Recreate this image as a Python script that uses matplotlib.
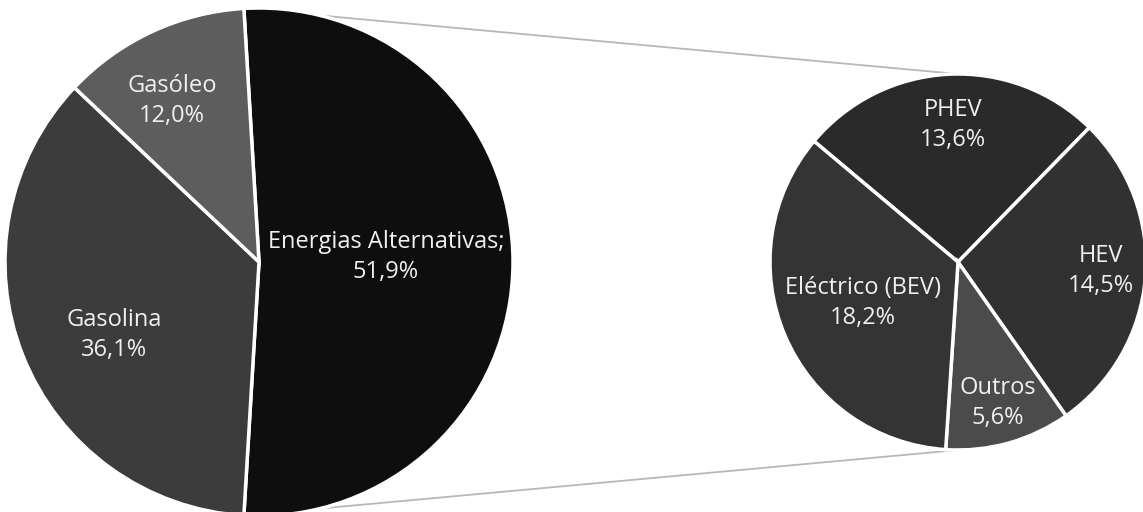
import numpy as np
import matplotlib
matplotlib.use("Agg")
import matplotlib.pyplot as plt

# ---- data ----
main_labels = ["Energias Alternativas;", "Gasolina", "Gasóleo"]
main_values = [51.9, 36.1, 12.0]
main_colors = ["#0e0e0e", "#3c3c3c", "#5d5d5d"]

sub_labels = ["PHEV", "HEV", "Outros", "Eléctrico (BEV)"]
sub_values = [13.6, 14.5, 5.6, 18.2]
sub_colors = ["#2a2a2a", "#313131", "#4b4b4b", "#343434"]

# label placement (angle in degrees, fraction of radius)
main_label_pos = [(2.3, 0.50), (206.7, 0.64), (118.4, 0.72)]
sub_label_pos = [(92.1, 0.73), (-3.6, 0.76), (-74.4, 0.78), (203.3, 0.55)]

W, H = 1143, 512
fig = plt.figure(figsize=(W / 100, H / 100), dpi=100)
ax = fig.add_axes([0, 0, 1, 1])

font = ["Open Sans", "DejaVu Sans"]
txt_color = "#f0f0f0"
fs = 17

c1, r1 = (259, 250), 254
c2, r2 = (958, 250), 188

alt_share = main_values[0] / sum(main_values) * 360
start1 = 90 + (alt_share - 180) / 2

w1, _ = ax.pie(main_values, colors=main_colors, startangle=start1, counterclock=False,
               center=c1, radius=r1,
               wedgeprops=dict(edgecolor="white", linewidth=2.5))

start2 = 140
w2, _ = ax.pie(sub_values, colors=sub_colors, startangle=start2, counterclock=False,
               center=c2, radius=r2,
               wedgeprops=dict(edgecolor="white", linewidth=2.5))

def fmt(v):
    return f"{v:.1f}".replace(".", ",") + "%"

for lab, v, (ang, fr) in zip(main_labels, main_values, main_label_pos):
    x = c1[0] + fr * r1 * np.cos(np.radians(ang))
    y = c1[1] + fr * r1 * np.sin(np.radians(ang))
    ax.text(x, y, f"{lab}\n{fmt(v)}", ha="center", va="center", color=txt_color,
            fontsize=fs, family=font, linespacing=1.35)

for lab, v, (ang, fr) in zip(sub_labels, sub_values, sub_label_pos):
    x = c2[0] + fr * r2 * np.cos(np.radians(ang))
    y = c2[1] + fr * r2 * np.sin(np.radians(ang))
    ax.text(x, y, f"{lab}\n{fmt(v)}", ha="center", va="center", color=txt_color,
            fontsize=fs, family=font, linespacing=1.35)

# connector lines between the split wedge and the secondary pie
alt = w1[0]
angs = [alt.theta1, alt.theta2]
pts = [(c1[0] + r1 * np.cos(np.radians(a)), c1[1] + r1 * np.sin(np.radians(a))) for a in angs]
top_pt = max(pts, key=lambda p: p[1])
bot_pt = min(pts, key=lambda p: p[1])
ax.plot([top_pt[0], c2[0]], [top_pt[1], c2[1] + r2], color="#b8b8b8", lw=1.3, zorder=0)
ax.plot([bot_pt[0], c2[0]], [bot_pt[1], c2[1] - r2], color="#b8b8b8", lw=1.3, zorder=0)

ax.set_xlim(0, W)
ax.set_ylim(0, H)
ax.set_aspect("equal")
ax.axis("off")

fig.savefig("out.png", dpi=100, facecolor="white")
